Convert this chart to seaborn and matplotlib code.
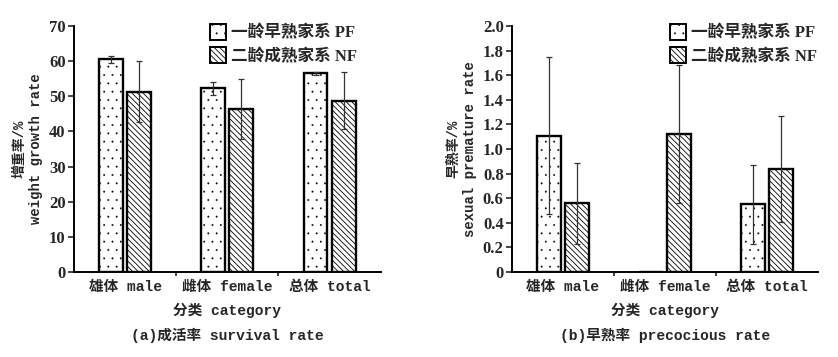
import pandas as pd
import numpy as np
import seaborn as sns
from matplotlib import pyplot as plt
from matplotlib.patches import Patch
from matplotlib.ticker import FuncFormatter, FixedLocator

sns.set_style("ticks")
plt.rcParams["font.family"] = ["Liberation Mono", "Noto Sans CJK SC"]
plt.rcParams["hatch.linewidth"] = 0.6

categories = ["雄体 male", "雌体 female", "总体 total"]
families = ["一龄早熟家系 PF", "二龄成熟家系 NF"]

# (a) weight growth / survival
growth_pf = [60.5, 52.3, 56.5]
growth_pf_err = [1.0, 1.9, 0.5]
growth_nf = [51.3, 46.5, 48.8]
growth_nf_err = [8.7, 8.5, 8.0]

# (b) precocious rate
premature_pf = [1.11, 0.0, 0.55]
premature_pf_err = [0.64, np.nan, 0.32]
premature_nf = [0.56, 1.12, 0.84]
premature_nf_err = [0.33, 0.56, 0.43]

hatches = ["..", "\\\\\\\\\\\\"]
hatch_widths = [0.15, 0.6]
mono = ["Liberation Mono", "Noto Sans CJK SC"]
serif = ["Liberation Serif", "Noto Sans CJK SC"]


def make_df(pf, pf_err, nf, nf_err):
    return pd.DataFrame({
        "category": categories * 2,
        "family": [families[0]] * 3 + [families[1]] * 3,
        "value": pf + nf,
        "err": pf_err + nf_err,
    })


def set_hw(p, w):
    if hasattr(p, "set_hatch_linewidth"):
        p.set_hatch_linewidth(w)


def draw(ax, df, ylim, step, ylabel, title, fmt, legend_x):
    sns.barplot(ax=ax, data=df, x="category", y="value", hue="family",
                hue_order=families, order=categories, errorbar=None,
                width=0.55, gap=0.15, palette=["white", "white"],
                edgecolor="black", linewidth=1.7, legend=False)
    for cont, hatch, hw, fam in zip(ax.containers, hatches, hatch_widths, families):
        errs = df.loc[df["family"] == fam, "err"].tolist()
        for p, e in zip(cont.patches, errs):
            p.set_hatch(hatch)
            set_hw(p, hw)
            if np.isnan(e):
                continue
            ax.errorbar(p.get_x() + p.get_width() / 2, p.get_height(), yerr=e,
                        fmt="none", ecolor="#333333", elinewidth=0.9,
                        capsize=2.5, capthick=0.9, zorder=5)
    ax.set_xlim(-0.5, 2.5)
    ax.set_ylim(*ylim)
    ax.yaxis.set_major_locator(FixedLocator(np.arange(ylim[0], ylim[1] + step / 2, step)))
    ax.yaxis.set_major_formatter(FuncFormatter(fmt))
    ax.xaxis.set_minor_locator(FixedLocator([0.5, 1.5]))
    ax.tick_params(axis="x", which="major", length=0, pad=6)
    ax.tick_params(axis="x", which="minor", length=3, width=1.2, direction="out")
    ax.tick_params(axis="y", length=4, width=1.2, direction="out", pad=2)
    for lab in ax.get_yticklabels():
        lab.set_fontfamily("Liberation Serif")
        lab.set_fontweight("bold")
        lab.set_fontsize(12)
    for lab in ax.get_xticklabels():
        lab.set_fontfamily(mono)
        lab.set_fontweight("bold")
        lab.set_fontsize(10.5)
    for s in ["left", "bottom"]:
        ax.spines[s].set_linewidth(1.4)
        ax.spines[s].set_color("black")
    sns.despine(ax=ax)
    ax.set_ylabel(ylabel, family=mono, fontweight="bold", fontsize=10, labelpad=4,
                  linespacing=1.3)
    ax.set_xlabel("分类 category", family=mono, fontweight="bold", fontsize=10.5,
                  labelpad=6)
    ax.text(0.5, -0.225, title, transform=ax.transAxes, ha="center", va="top",
            family=mono, fontweight="bold", fontsize=10.5)
    handles = []
    for h, hw in zip(hatches, hatch_widths):
        hp = Patch(facecolor="white", edgecolor="black", hatch=h, linewidth=1.4)
        set_hw(hp, hw)
        handles.append(hp)
    leg = ax.legend(handles, families, loc="upper right", bbox_to_anchor=(legend_x, 1.07),
                    frameon=False, handlelength=0.95, handleheight=1.1, handletextpad=0.3,
                    labelspacing=0.35, prop={"family": serif, "weight": "bold", "size": 12})
    for lp, hw in zip(leg.get_patches(), hatch_widths):
        set_hw(lp, hw)


fig = plt.figure(figsize=(8.38, 3.57), dpi=100)
ax1 = fig.add_axes([0.0883, 0.238, 0.366, 0.689])
ax2 = fig.add_axes([0.611, 0.238, 0.365, 0.689])

df_a = make_df(growth_pf, growth_pf_err, growth_nf, growth_nf_err)
df_b = make_df(premature_pf, premature_pf_err, premature_nf, premature_nf_err)

draw(ax1, df_a, (0, 70), 10, "增重率/%\nweight growth rate",
     "(a)成活率 survival rate", lambda v, p: f"{v:.0f}", 0.97)
draw(ax2, df_b, (0, 2.0), 0.2, "早熟率/%\nsexual premature rate",
     "(b)早熟率 precocious rate",
     lambda v, p: "0" if abs(v) < 1e-9 else f"{v:.1f}", 1.045)

plt.savefig("out.png", dpi=100)
